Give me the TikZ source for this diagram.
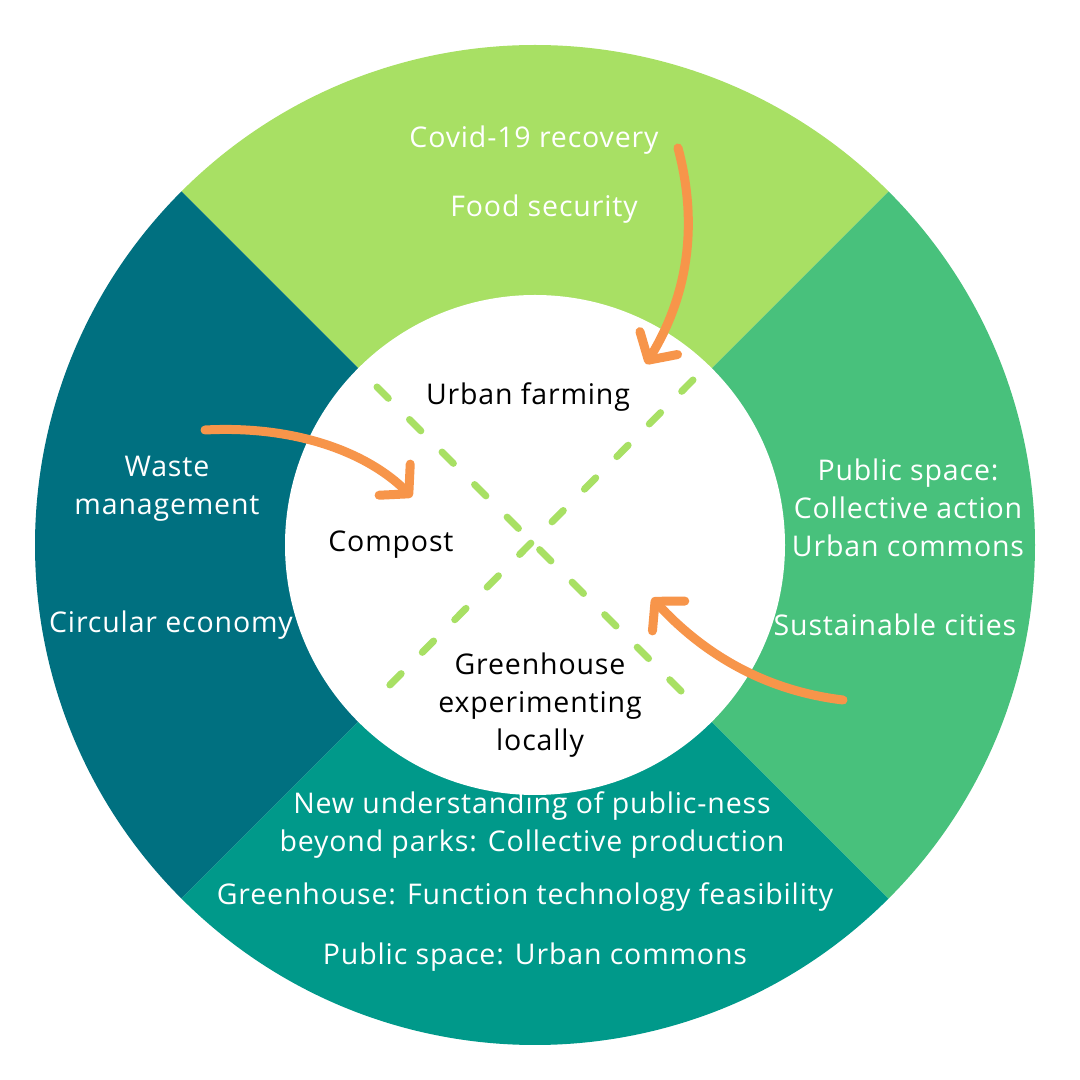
\documentclass[tikz,border=0pt]{standalone}
\usepackage{fontspec}
\setmainfont{Open Sans}[LetterSpace=3]
\usetikzlibrary{arrows.meta}
\definecolor{topc}{HTML}{A8E064}
\definecolor{rightc}{HTML}{48C17C}
\definecolor{botc}{HTML}{00998A}
\definecolor{leftc}{HTML}{007080}
\definecolor{orng}{HTML}{F7954A}
\tikzset{
  wtxt/.style={text=white,font=\fontsize{28.5}{38}\selectfont,align=center,inner sep=0pt},
  btxt/.style={text=black,font=\fontsize{28.5}{38}\selectfont,align=center,inner sep=0pt},
  dashline/.style={draw=topc,line width=7pt,line cap=round,dash pattern=on 16pt off 30pt},
  orarrow/.style={draw=orng,line width=9pt,line cap=round,-{Straight Barb[round,length=20pt,width=44pt]}}
}
\begin{document}
\begin{tikzpicture}[x=1pt,y=1pt]
\useasboundingbox (0,0) rectangle (1080,1080);
\fill[white] (0,0) rectangle (1080,1080);
\coordinate (C) at (535,535);
\fill[topc] (C) -- ++(45:500) arc[start angle=45,end angle=135,radius=500] -- cycle;
\fill[leftc] (C) -- ++(135:500) arc[start angle=135,end angle=225,radius=500] -- cycle;
\fill[botc] (C) -- ++(225:500) arc[start angle=225,end angle=315,radius=500] -- cycle;
\fill[rightc] (C) -- ++(-45:500) arc[start angle=-45,end angle=45,radius=500] -- cycle;
\fill[white] (C) circle[radius=250];
% dashed cross
\coordinate (d1a) at (377,693);
\coordinate (d1b) at (700,370);
\coordinate (d2a) at (693,700);
\coordinate (d2b) at (370,375);
\draw[dashline] (d1a) -- (d1b);
\draw[dashline] (d2a) -- (d2b);
% texts
\node[wtxt] (covid) at (534,940) {Covid-19 recovery};
\node[wtxt] (food) at (544,871) {Food security};
\node[btxt] (urban) at (528,683) {Urban farming};
\node[wtxt] (waste) at (167,591) {Waste\\management};
\node[wtxt] (circ) at (171,455) {Circular economy};
\node[btxt] (compost) at (391,535) {Compost};
\node[wtxt] (pub) at (908,572) {Public space:\\Collective action\\Urban commons};
\node[wtxt] (sust) at (895,455) {Sustainable cities};
\node[btxt] (green) at (540,375) {Greenhouse\\experimenting\\locally};
\node[wtxt] (newu) at (532,254.5) {New understanding of public-ness\\beyond parks: Collective production};
\node[wtxt] (ghf) at (525,183) {Greenhouse: Function technology feasibility};
\node[wtxt] (pubs) at (535,123) {Public space: Urban commons};
% arrows
\coordinate (a1s) at (678,932);
\coordinate (a1e) at (646,716);
\coordinate (a2s) at (205,650);
\coordinate (a2e) at (412,583);
\coordinate (a3s) at (843,380);
\coordinate (a3e) at (652,482);
\draw[orarrow] (a1s) .. controls (700,850) and (685,780) .. (a1e);
\draw[orarrow] (a2s) .. controls (300,655) and (370,625) .. (a2e);
\draw[orarrow] (a3s) .. controls (760,390) and (700,430) .. (a3e);
\end{tikzpicture}
\end{document}
